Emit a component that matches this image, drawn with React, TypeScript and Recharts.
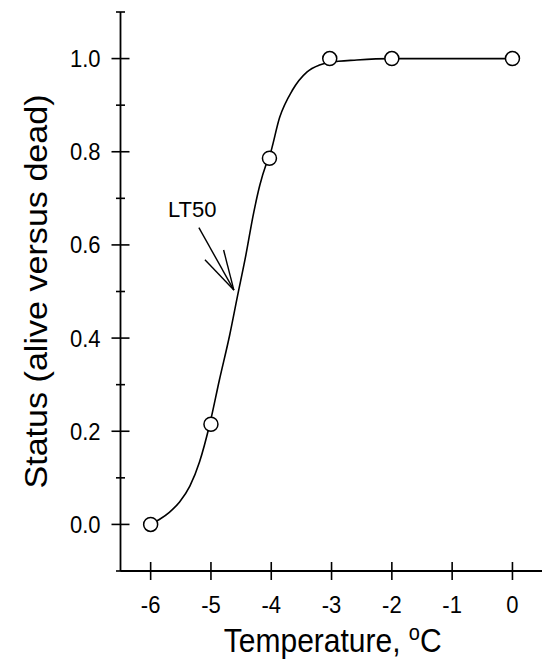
import { ComposedChart, Label, Line, ReferenceDot, ReferenceLine, Scatter, XAxis, YAxis } from 'recharts'

const FONT = '"Liberation Sans", Arial, Helvetica, sans-serif'
const INK = '#000000'
// the printed figure is slightly taller than wide; text is stretched to match
const STRETCH = 1.1

// observed status at each test temperature
const obsTemp = [-6, -5, -4.03, -3.03, -2, 0]
const obsStatus = [0, 0.215, 0.786, 1.0, 1.0, 1.0]

// fitted curve
const fitTemp = [-6, -5.85, -5.69, -5.52, -5.35, -5.19, -5.02, -4.86, -4.69, -4.56, -4.43, -4.29, -4.19, -4.09, -4.03, -3.86, -3.65, -3.41, -3.2, -3.03, -2.58, -2.02, 0]
const fitStatus = [0, 0.011, 0.026, 0.048, 0.082, 0.134, 0.215, 0.31, 0.406, 0.49, 0.572, 0.67, 0.728, 0.771, 0.79, 0.874, 0.932, 0.971, 0.986, 0.992, 0.997, 1.0, 1.0]

// LT50 annotation: label anchor, arrow shaft and head
const lt50Label = { x: -5.31, y: 0.66 }
const arrowTail = { x: -5.2, y: 0.637 }
const arrowTip = { x: -4.62, y: 0.503 }
const arrowBarbs = [
  { x: -5.1, y: 0.568 },
  { x: -4.79, y: 0.589 },
]

const xTicks = [-6, -5, -4, -3, -2, -1, 0]
const yTicks = [-0.1, 0, 0.1, 0.2, 0.3, 0.4, 0.5, 0.6, 0.7, 0.8, 0.9, 1.0, 1.1]
const yLabelled = [0, 0.2, 0.4, 0.6, 0.8, 1.0]

const observed = obsTemp.map((x, i) => ({ x, y: obsStatus[i] }))
const fitted = fitTemp.map((x, i) => ({ x, y: fitStatus[i] }))

function XTick(props: any) {
  const { x, y, payload } = props
  return (
    <g>
      <line x1={x} x2={x} y1={y - 9} y2={y + 9} stroke={INK} strokeWidth={1.6} />
      <text
        transform={`translate(${x} ${y + 42}) scale(1 ${STRETCH})`}
        textAnchor="middle"
        fontSize={22}
        fontFamily={FONT}
        fill={INK}
      >
        {String(payload.value)}
      </text>
    </g>
  )
}

function YTick(props: any) {
  const { x, y, payload } = props
  const v = payload.value as number
  const major = yLabelled.includes(v)
  const len = major ? 9 : 4.5
  return (
    <g>
      <line x1={x - len} x2={x + len} y1={y} y2={y} stroke={INK} strokeWidth={1.6} />
      {major && (
        <text
          transform={`translate(${x - 20} ${y + 8.5}) scale(1 ${STRETCH})`}
          textAnchor="end"
          fontSize={22}
          fontFamily={FONT}
          fill={INK}
        >
          {v.toFixed(1)}
        </text>
      )}
    </g>
  )
}

function OpenCircle(props: any) {
  return <circle cx={props.cx} cy={props.cy} r={7} fill="#ffffff" stroke={INK} strokeWidth={1.5} />
}

export default function App() {
  return (
    <div style={{ position: 'absolute', left: 0, top: 0, width: 542, height: 660, background: '#fff' }}>
      <ComposedChart width={542} height={660} margin={{ top: 12, right: 0, bottom: 0, left: 0 }}>
        <XAxis
          type="number"
          dataKey="x"
          domain={[-6.5, 0.49]}
          allowDataOverflow
          ticks={xTicks}
          interval={0}
          height={89}
          tickSize={0}
          tickMargin={0}
          tickLine={false}
          axisLine={{ stroke: INK, strokeWidth: 1.8 }}
          tick={<XTick />}
        >
          <Label
            content={(p: any) => {
              const vb = p.viewBox
              const cx = vb.x + vb.width / 2 + 1.5
              const cy = vb.y + 81
              return (
                <text
                  transform={`translate(${cx} ${cy}) scale(1 ${STRETCH})`}
                  textAnchor="middle"
                  fontSize={30}
                  fontFamily={FONT}
                  fill={INK}
                >
                  Temperature,{' '}
                  <tspan fontSize={20} dy={-11}>o</tspan>
                  <tspan dy={11}>C</tspan>
                </text>
              )
            }}
          />
        </XAxis>
        <YAxis
          type="number"
          dataKey="y"
          domain={[-0.1, 1.1]}
          allowDataOverflow
          ticks={yTicks}
          interval={0}
          width={120.5}
          tickSize={0}
          tickMargin={0}
          tickLine={false}
          axisLine={{ stroke: INK, strokeWidth: 1.8 }}
          tick={<YTick />}
        >
          <Label
            content={(p: any) => {
              const vb = p.viewBox
              const cx = vb.x + 47
              const cy = vb.y + vb.height / 2
              return (
                <text
                  transform={`translate(${cx} ${cy}) rotate(-90) scale(${STRETCH} 1)`}
                  textAnchor="middle"
                  fontSize={31}
                  fontFamily={FONT}
                  fill={INK}
                >
                  Status (alive versus dead)
                </text>
              )
            }}
          />
        </YAxis>
        <Line
          data={fitted}
          dataKey="y"
          type="monotone"
          stroke={INK}
          strokeWidth={1.6}
          dot={false}
          activeDot={false}
          isAnimationActive={false}
        />
        <Scatter data={observed} dataKey="y" shape={<OpenCircle />} isAnimationActive={false} />
        <ReferenceLine segment={[arrowTail, arrowTip]} stroke={INK} strokeWidth={1.4} />
        {arrowBarbs.map((b, i) => (
          <ReferenceLine key={i} segment={[b, arrowTip]} stroke={INK} strokeWidth={1.4} />
        ))}
        <ReferenceDot
          x={lt50Label.x}
          y={lt50Label.y}
          r={0}
          shape={(p: any) => (
            <text x={p.cx} y={p.cy} textAnchor="middle" fontSize={22} fontFamily={FONT} fill={INK}>
              LT50
            </text>
          )}
        />
      </ComposedChart>
    </div>
  )
}
